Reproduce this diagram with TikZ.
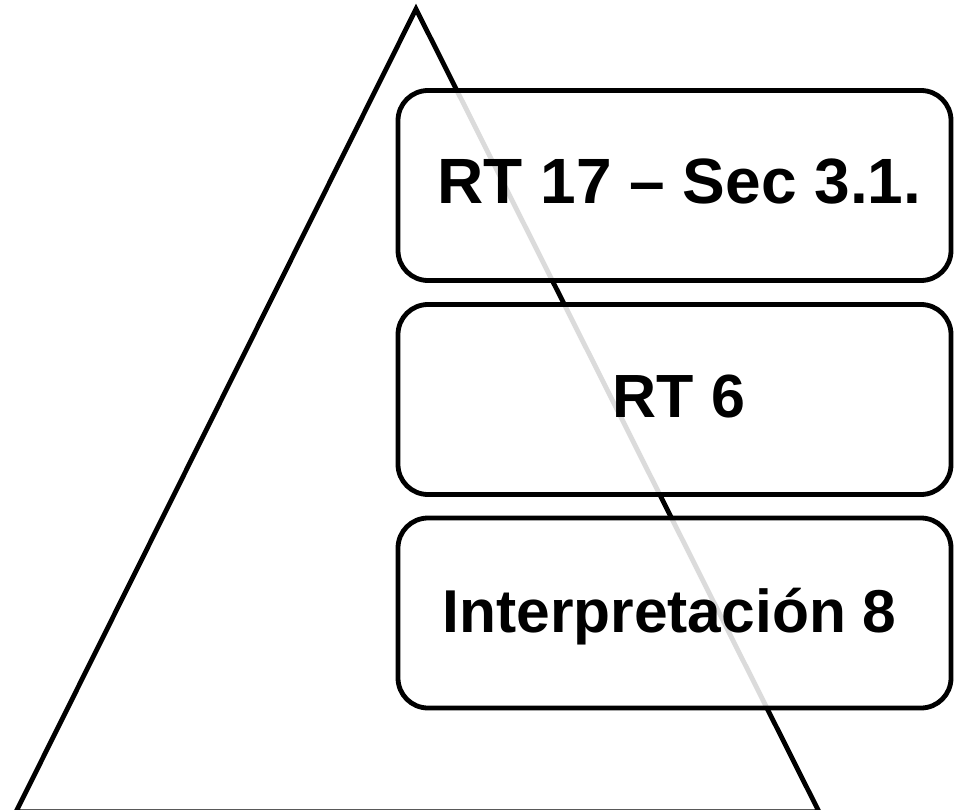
\documentclass[tikz,border=0pt]{standalone}
\usepackage{fontspec}
\setmainfont{Liberation Sans}
\begin{document}
\begin{tikzpicture}[x=1pt,y=-1pt,
  tier/.style={draw=black,line width=4.8pt,fill=white,fill opacity=0.86,
    rounded corners=30pt,minimum width=553pt,minimum height=190pt,inner sep=0pt},
  label/.style={anchor=base,inner sep=0pt,font=\bfseries}]
\useasboundingbox (0,0) rectangle (955,810);
\coordinate (apex) at (416,9);
\coordinate (bl) at (16,811.8);
\coordinate (br) at (819,811.8);
\draw[line width=4.8pt,line join=miter] (apex) -- (br) -- (bl) -- cycle;
\node[tier] (b1) at (674.5,185.5) {};
\node[tier] (b2) at (674.5,399.5) {};
\node[tier] (b3) at (674.5,613) {};
\node[label,font=\bfseries\fontsize{64}{70}\selectfont] (t1) at (679.5,204) {RT 17 – Sec 3.1.};
\node[label,font=\bfseries\fontsize{61}{68}\selectfont] (t2) at (679,417) {RT 6};
\node[label,font=\bfseries\fontsize{60.5}{66}\selectfont] (t3) at (669.5,632.7) {Interpretación 8};
\end{tikzpicture}
\end{document}
